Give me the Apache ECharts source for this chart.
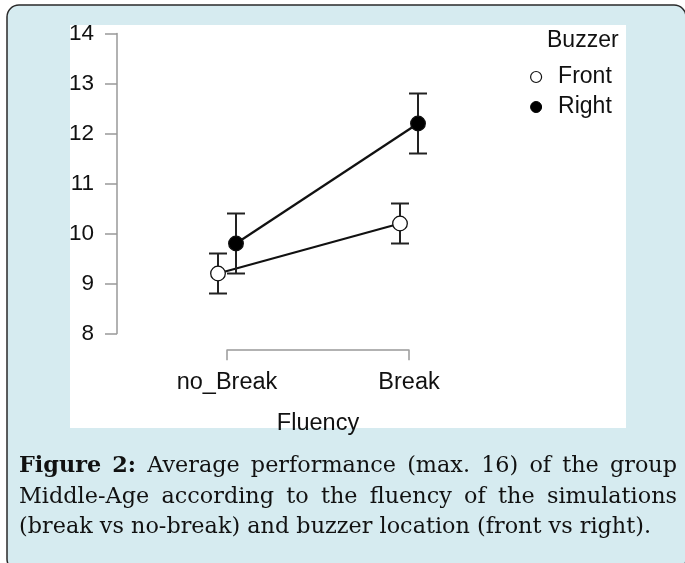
<!DOCTYPE html>
<html>
<head>
<meta charset="utf-8">
<script src="https://cdn.jsdelivr.net/npm/echarts@6/dist/echarts.min.js"></script>
<style>
html,body{margin:0;padding:0;background:#fff;}
#chart{width:685px;height:563px;}
</style>
</head>
<body>
<div id="chart"></div>
<script>
// ---- data ----
const categories = ['no_Break', 'Break'];
const frontMean = [9.2, 10.2];
const frontLow  = [8.8, 9.8];
const frontHigh = [9.6, 10.6];
const rightMean = [9.8, 12.2];
const rightLow  = [9.2, 11.6];
const rightHigh = [10.4, 12.8];
const yMin = 8, yMax = 14, yInterval = 1;
const legendTitle = 'Buzzer';
const xAxisName = 'Fluency';
const captionBold = ['Figure', '2:'];
const captionLine1 = ['Average', 'performance', '(max.', '16)', 'of', 'the', 'group'];
const captionLine2 = ['Middle-Age', 'according', 'to', 'the', 'fluency', 'of', 'the', 'simulations'];
const captionLine3 = ['(break', 'vs', 'no-break)', 'and', 'buzzer', 'location', '(front', 'vs', 'right).'];

// ---- layout / style ----
const SANS = '"Liberation Sans", Arial, sans-serif';
const SERIF = '"DejaVu Serif", "Liberation Serif", serif';
const dodge = 9;          // px offset of each group around category centre
const capHalf = 9;        // half width of error bar caps

function makeRender(mean, low, high, offset, filled) {
  return function (params, api) {
    const i = api.value(0);
    const p = api.coord([i, api.value(1)]);
    const lo = api.coord([i, api.value(2)]);
    const hi = api.coord([i, api.value(3)]);
    const x = p[0] + offset;
    const children = [];
    if (i < mean.length - 1) {
      const q = api.coord([i + 1, mean[i + 1]]);
      children.push({type: 'line', z2: 1,
        shape: {x1: x, y1: p[1], x2: q[0] + offset, y2: q[1]},
        style: {stroke: '#111', lineWidth: 2.2}});
    }
    const eb = {stroke: '#222', lineWidth: 2};
    children.push({type: 'line', z2: 5, shape: {x1: x, y1: lo[1], x2: x, y2: hi[1]}, style: eb});
    children.push({type: 'line', z2: 5, shape: {x1: x - capHalf, y1: lo[1], x2: x + capHalf, y2: lo[1]}, style: eb});
    children.push({type: 'line', z2: 5, shape: {x1: x - capHalf, y1: hi[1], x2: x + capHalf, y2: hi[1]}, style: eb});
    children.push({type: 'circle', z2: 10, shape: {cx: x, cy: p[1], r: 7.3},
      style: {fill: filled ? '#000' : '#fff', stroke: '#111', lineWidth: 1.3}});
    return {type: 'group', children: children};
  };
}

const frontData = categories.map((c, i) => [i, frontMean[i], frontLow[i], frontHigh[i]]);
const rightData = categories.map((c, i) => [i, rightMean[i], rightLow[i], rightHigh[i]]);

// ---- caption layout (justified) ----
const ctx = document.createElement('canvas').getContext('2d');
const FS = 22.5;
function tw(t, bold) { ctx.font = (bold ? 'bold ' : '') + FS + 'px ' + SERIF; return ctx.measureText(t).width; }
const capLeft = 19, capRight = 677, line3Right = 651;
const spaceW = tw(' ', false);
const line3Nat = captionLine3.reduce((s, w, k) => s + tw(w, false) + (k ? spaceW : 0), 0);
const sx = (line3Right - capLeft) / line3Nat;
const captionEls = [];
function layLine(words, y, justify) {
  const ws = words.map(w => tw(w.t, w.b) * sx);
  const total = ws.reduce((a, b) => a + b, 0);
  const gap = justify ? (capRight - capLeft - total) / (words.length - 1) : spaceW * sx;
  let x = capLeft;
  words.forEach((w, k) => {
    captionEls.push({type: 'text', x: x, y: y, scaleX: sx, z: 20,
      style: {text: w.t, fill: '#111', font: (w.b ? 'bold ' : '') + FS + 'px ' + SERIF, verticalAlign: 'middle', align: 'left'}});
    x += ws[k] + gap;
  });
}
layLine(captionBold.map(t => ({t, b: true})).concat(captionLine1.map(t => ({t, b: false}))), 466, true);
layLine(captionLine2.map(t => ({t, b: false})), 497, true);
layLine(captionLine3.map(t => ({t, b: false})), 527.5, false);

const chart = echarts.init(document.getElementById('chart'), null, {renderer: 'canvas'});
chart.setOption({
  animation: false,
  backgroundColor: '#fff',
  graphic: [
    {type: 'rect', z: -10, shape: {x: 7, y: 5, width: 679, height: 566, r: 12},
      style: {fill: '#d6ebf0', stroke: '#2a2a2a', lineWidth: 1.5}},
    {type: 'rect', z: -9, shape: {x: 70, y: 25, width: 556, height: 403},
      style: {fill: '#fff'}}
  ].concat(captionEls),
  title: {
    text: legendTitle, left: 547, top: 28, padding: 0,
    textStyle: {fontFamily: SANS, fontSize: 23, fontWeight: 'normal', color: '#111', lineHeight: 26}
  },
  legend: {
    orient: 'vertical', left: 530, top: 64, padding: 0,
    itemWidth: 34, itemHeight: 11, itemGap: 4, icon: 'circle',
    textStyle: {fontFamily: SANS, fontSize: 23, color: '#111', lineHeight: 26, padding: 0},
    data: [
      {name: 'Front', itemStyle: {color: '#fff', borderColor: '#111', borderWidth: 1.2}},
      {name: 'Right', itemStyle: {color: '#000', borderColor: '#000', borderWidth: 1}}
    ]
  },
  grid: {left: 227, right: 276, top: 33.5, bottom: 229.5, containLabel: false},
  xAxis: {
    type: 'category', data: categories, boundaryGap: false, offset: 16.7,
    name: xAxisName, nameLocation: 'middle', nameGap: 60,
    nameTextStyle: {fontFamily: SANS, fontSize: 23.5, color: '#111', lineHeight: 26},
    axisLine: {lineStyle: {color: '#999', width: 1.5}},
    axisTick: {show: true, length: 10, alignWithLabel: true, lineStyle: {color: '#999', width: 1.5}},
    axisLabel: {fontFamily: SANS, fontSize: 23.5, color: '#111', margin: 19, lineHeight: 26},
    splitLine: {show: false}
  },
  yAxis: {
    type: 'value', min: yMin, max: yMax, interval: yInterval, offset: 110,
    axisLine: {show: true, lineStyle: {color: '#999', width: 1.5}},
    axisTick: {show: true, length: 12, lineStyle: {color: '#999', width: 1.5}},
    axisLabel: {fontFamily: SANS, fontSize: 22.5, color: '#111', margin: 23},
    splitLine: {show: false}
  },
  series: [
    {name: 'Front', type: 'custom', data: frontData, z: 3,
      itemStyle: {color: '#fff', borderColor: '#111'},
      encode: {x: 0, y: [1, 2, 3]},
      renderItem: makeRender(frontMean, frontLow, frontHigh, -dodge, false)},
    {name: 'Right', type: 'custom', data: rightData, z: 3,
      itemStyle: {color: '#000'},
      encode: {x: 0, y: [1, 2, 3]},
      renderItem: makeRender(rightMean, rightLow, rightHigh, dodge, true)}
  ]
});
</script>
</body>
</html>
